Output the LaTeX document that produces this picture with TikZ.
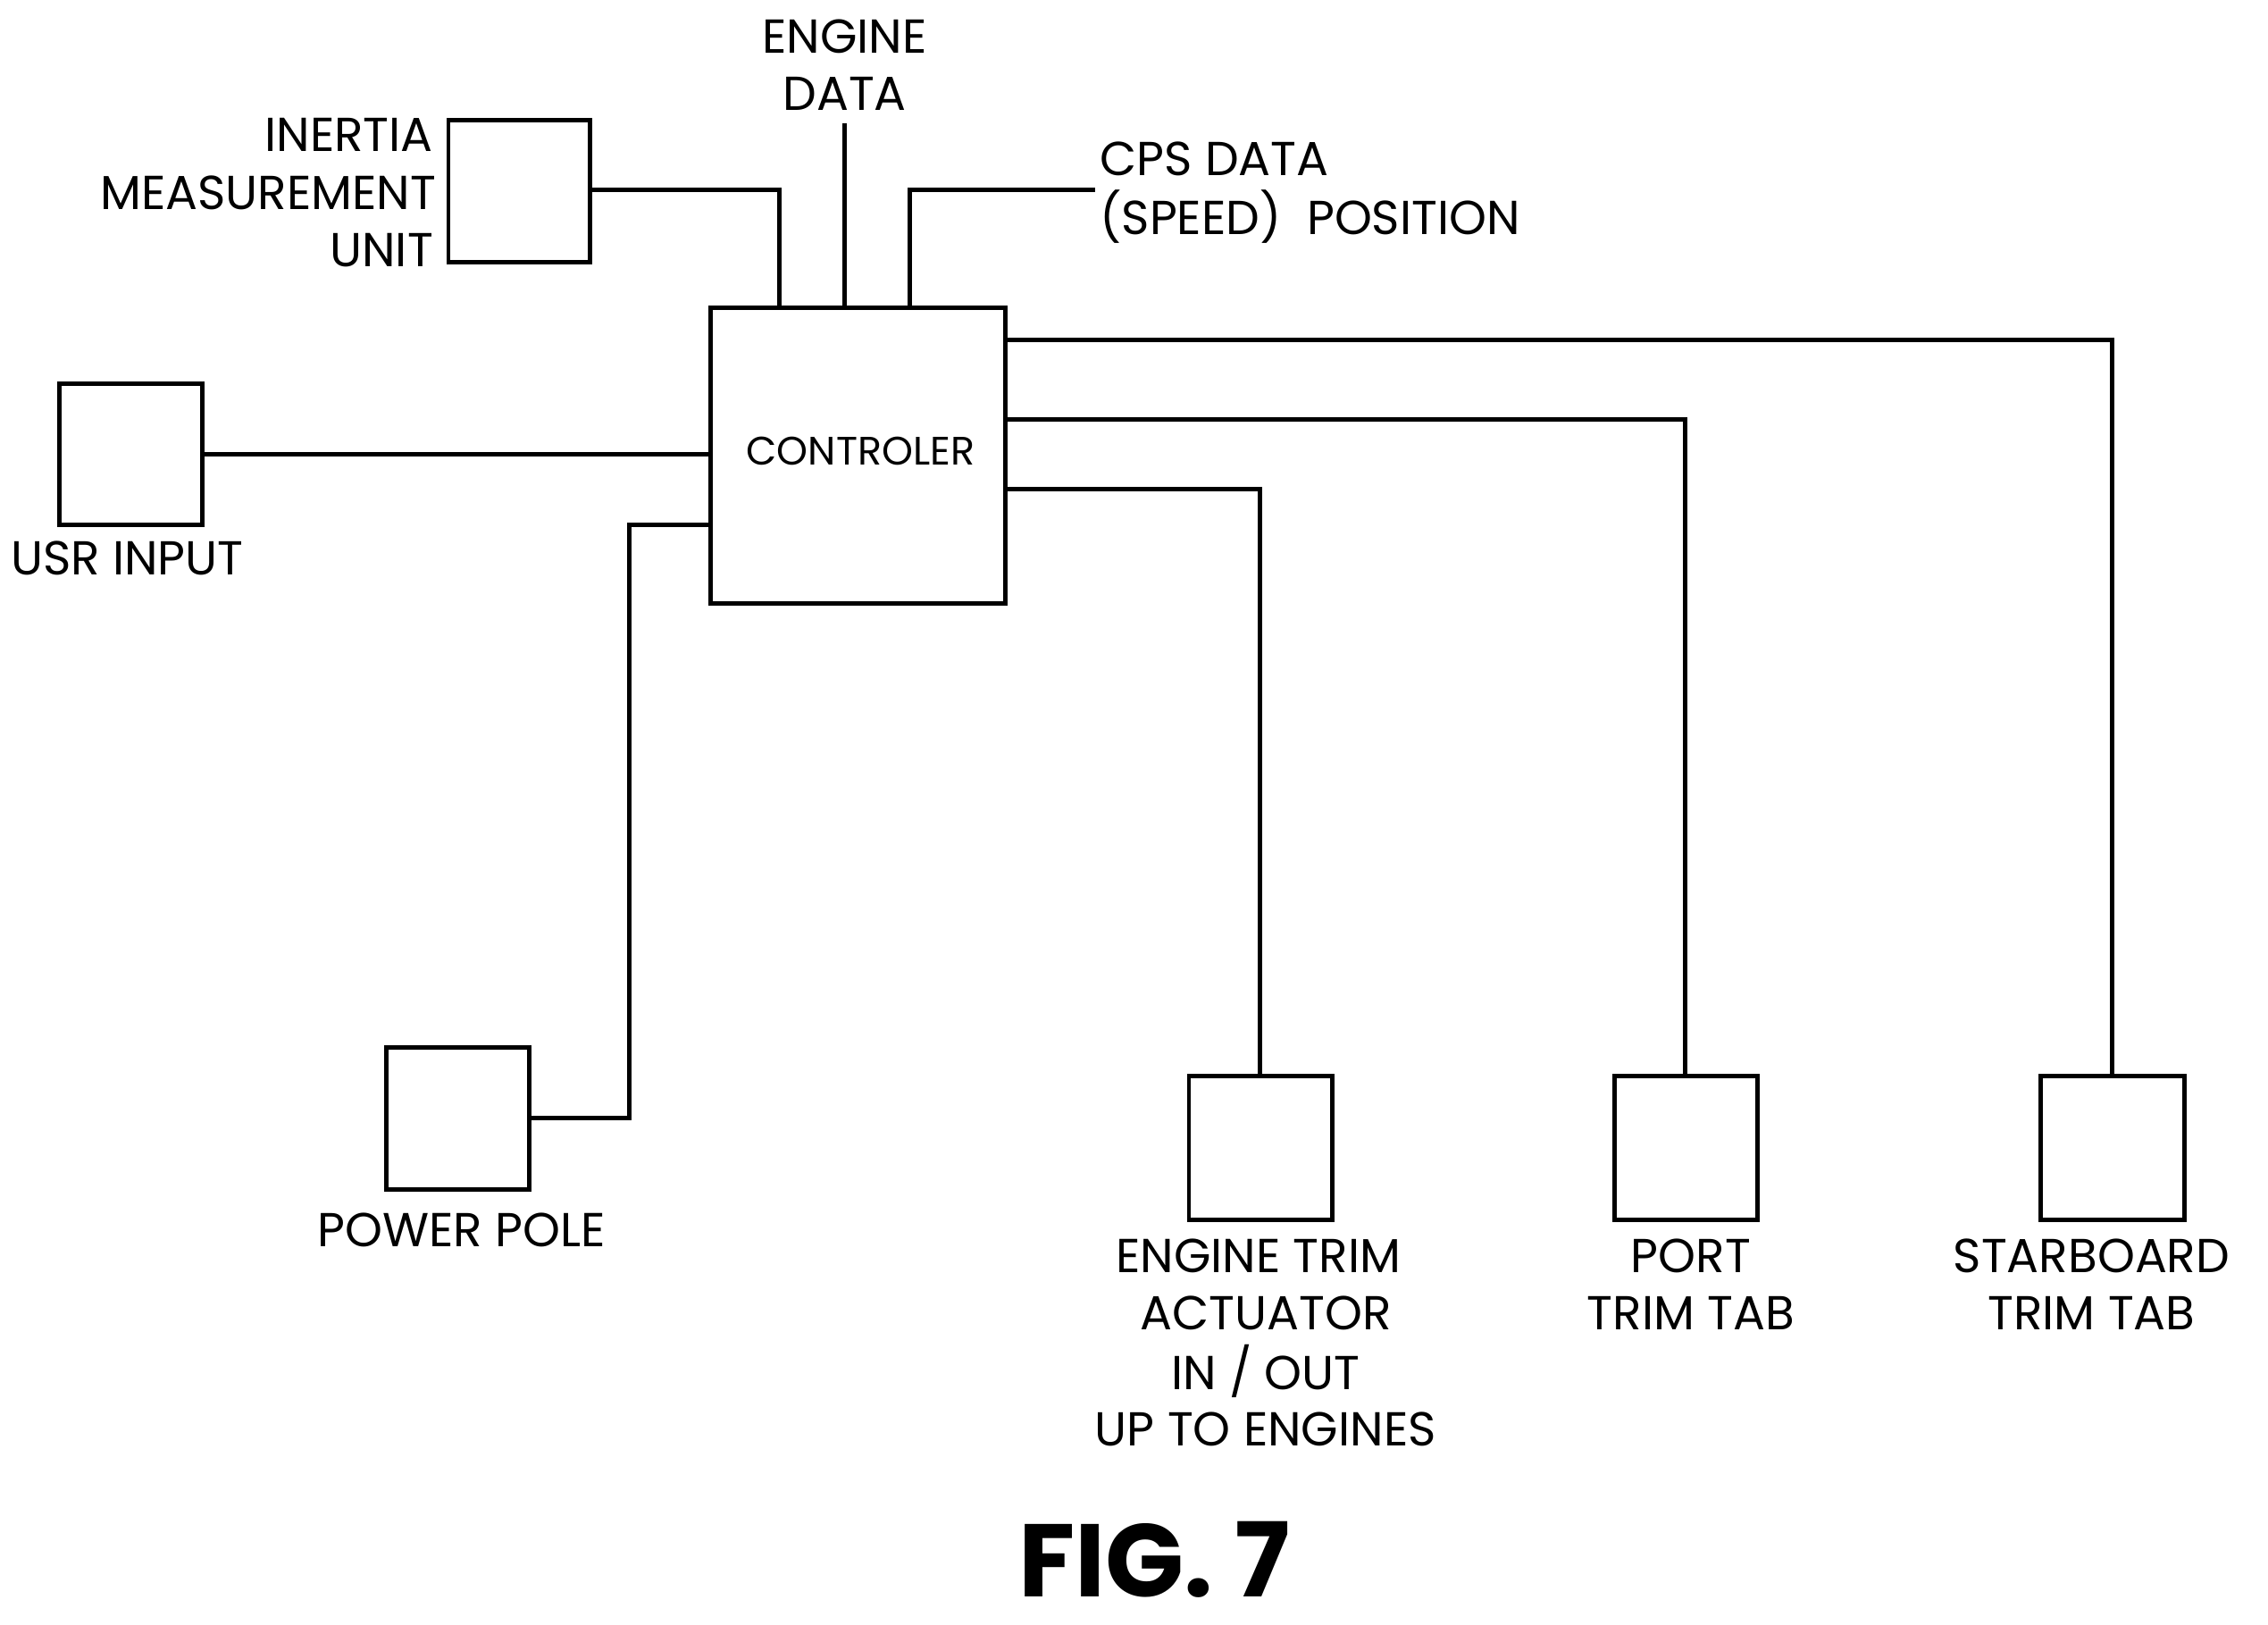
\documentclass[tikz,border=0pt]{standalone}
\usepackage{fontspec}
\setmainfont{Poppins}
\begin{document}
\begin{tikzpicture}[x=0.0128cm,y=-0.0128cm,
  box/.style={draw,line width=1.1pt,inner sep=0},
  ln/.style={line width=1.1pt},
  lbl/.style={font=\fontsize{12}{14}\selectfont,inner sep=0},
  every node/.style={inner sep=0}]
\useasboundingbox (0,0) rectangle (1568,1123);
% boxes
\draw[box] (310,83) rectangle (408,181); \coordinate (imu) at (408,131);
\draw[box] (491,213) rectangle (695,417);
\node[lbl,font=\fontsize{10}{12}\selectfont] (ctl) at (595,312) {CONTROLER};
\draw[box] (41,265) rectangle (140,363);
\draw[box] (267,724) rectangle (366,822);
\draw[box] (822,744) rectangle (921,843);
\draw[box] (1116,744) rectangle (1215,843);
\draw[box] (1411,744) rectangle (1510,843);
% connectors
\draw[ln] (408,131) -| (539,213);
\draw[ln] (584,213) -- (584,85);
\draw[ln] (629,213) |- (757,131);
\draw[ln] (140,314) -- (491,314);
\draw[ln] (366,773) -| (435,363) -- (491,363);
\draw[ln] (695,235) -| (1460,744);
\draw[ln] (695,290) -| (1165,744);
\draw[ln] (695,338) -| (871,744);
% labels
\node[lbl,anchor=east] (t1) at (300,93) {INERTIA};
\node[lbl,anchor=east] (t2) at (302,133) {MEASUREMENT};
\node[lbl,anchor=east] (t3) at (300,173) {UNIT};
\node[lbl] (t4) at (584,25) {ENGINE};
\node[lbl] (t5) at (584,65) {DATA};
\node[lbl,anchor=west] (t6) at (760,110) {CPS DATA};
\node[lbl,anchor=west] (t7) at (760,150) {(SPEED)\ \ POSITION};
\node[lbl] (t8) at (88,386) {USR INPUT};
\node[lbl] (t9) at (319,850) {POWER POLE};
\node[lbl] (t10) at (870,868) {ENGINE TRIM};
\node[lbl] (t11) at (875,908) {ACTUATOR};
\node[lbl] (t12) at (875,948) {IN / OUT};
\node[lbl] (t13) at (875,988) {UP TO ENGINES};
\node[lbl] (t14) at (1169,868) {PORT};
\node[lbl] (t15) at (1169,908) {TRIM TAB};
\node[lbl] (t16) at (1446,868) {STARBOARD};
\node[lbl] (t17) at (1446,908) {TRIM TAB};
\node[font=\fontsize{26}{30}\bfseries\selectfont] (fig) at (798,1078) {FIG. 7};
\end{tikzpicture}
\end{document}
